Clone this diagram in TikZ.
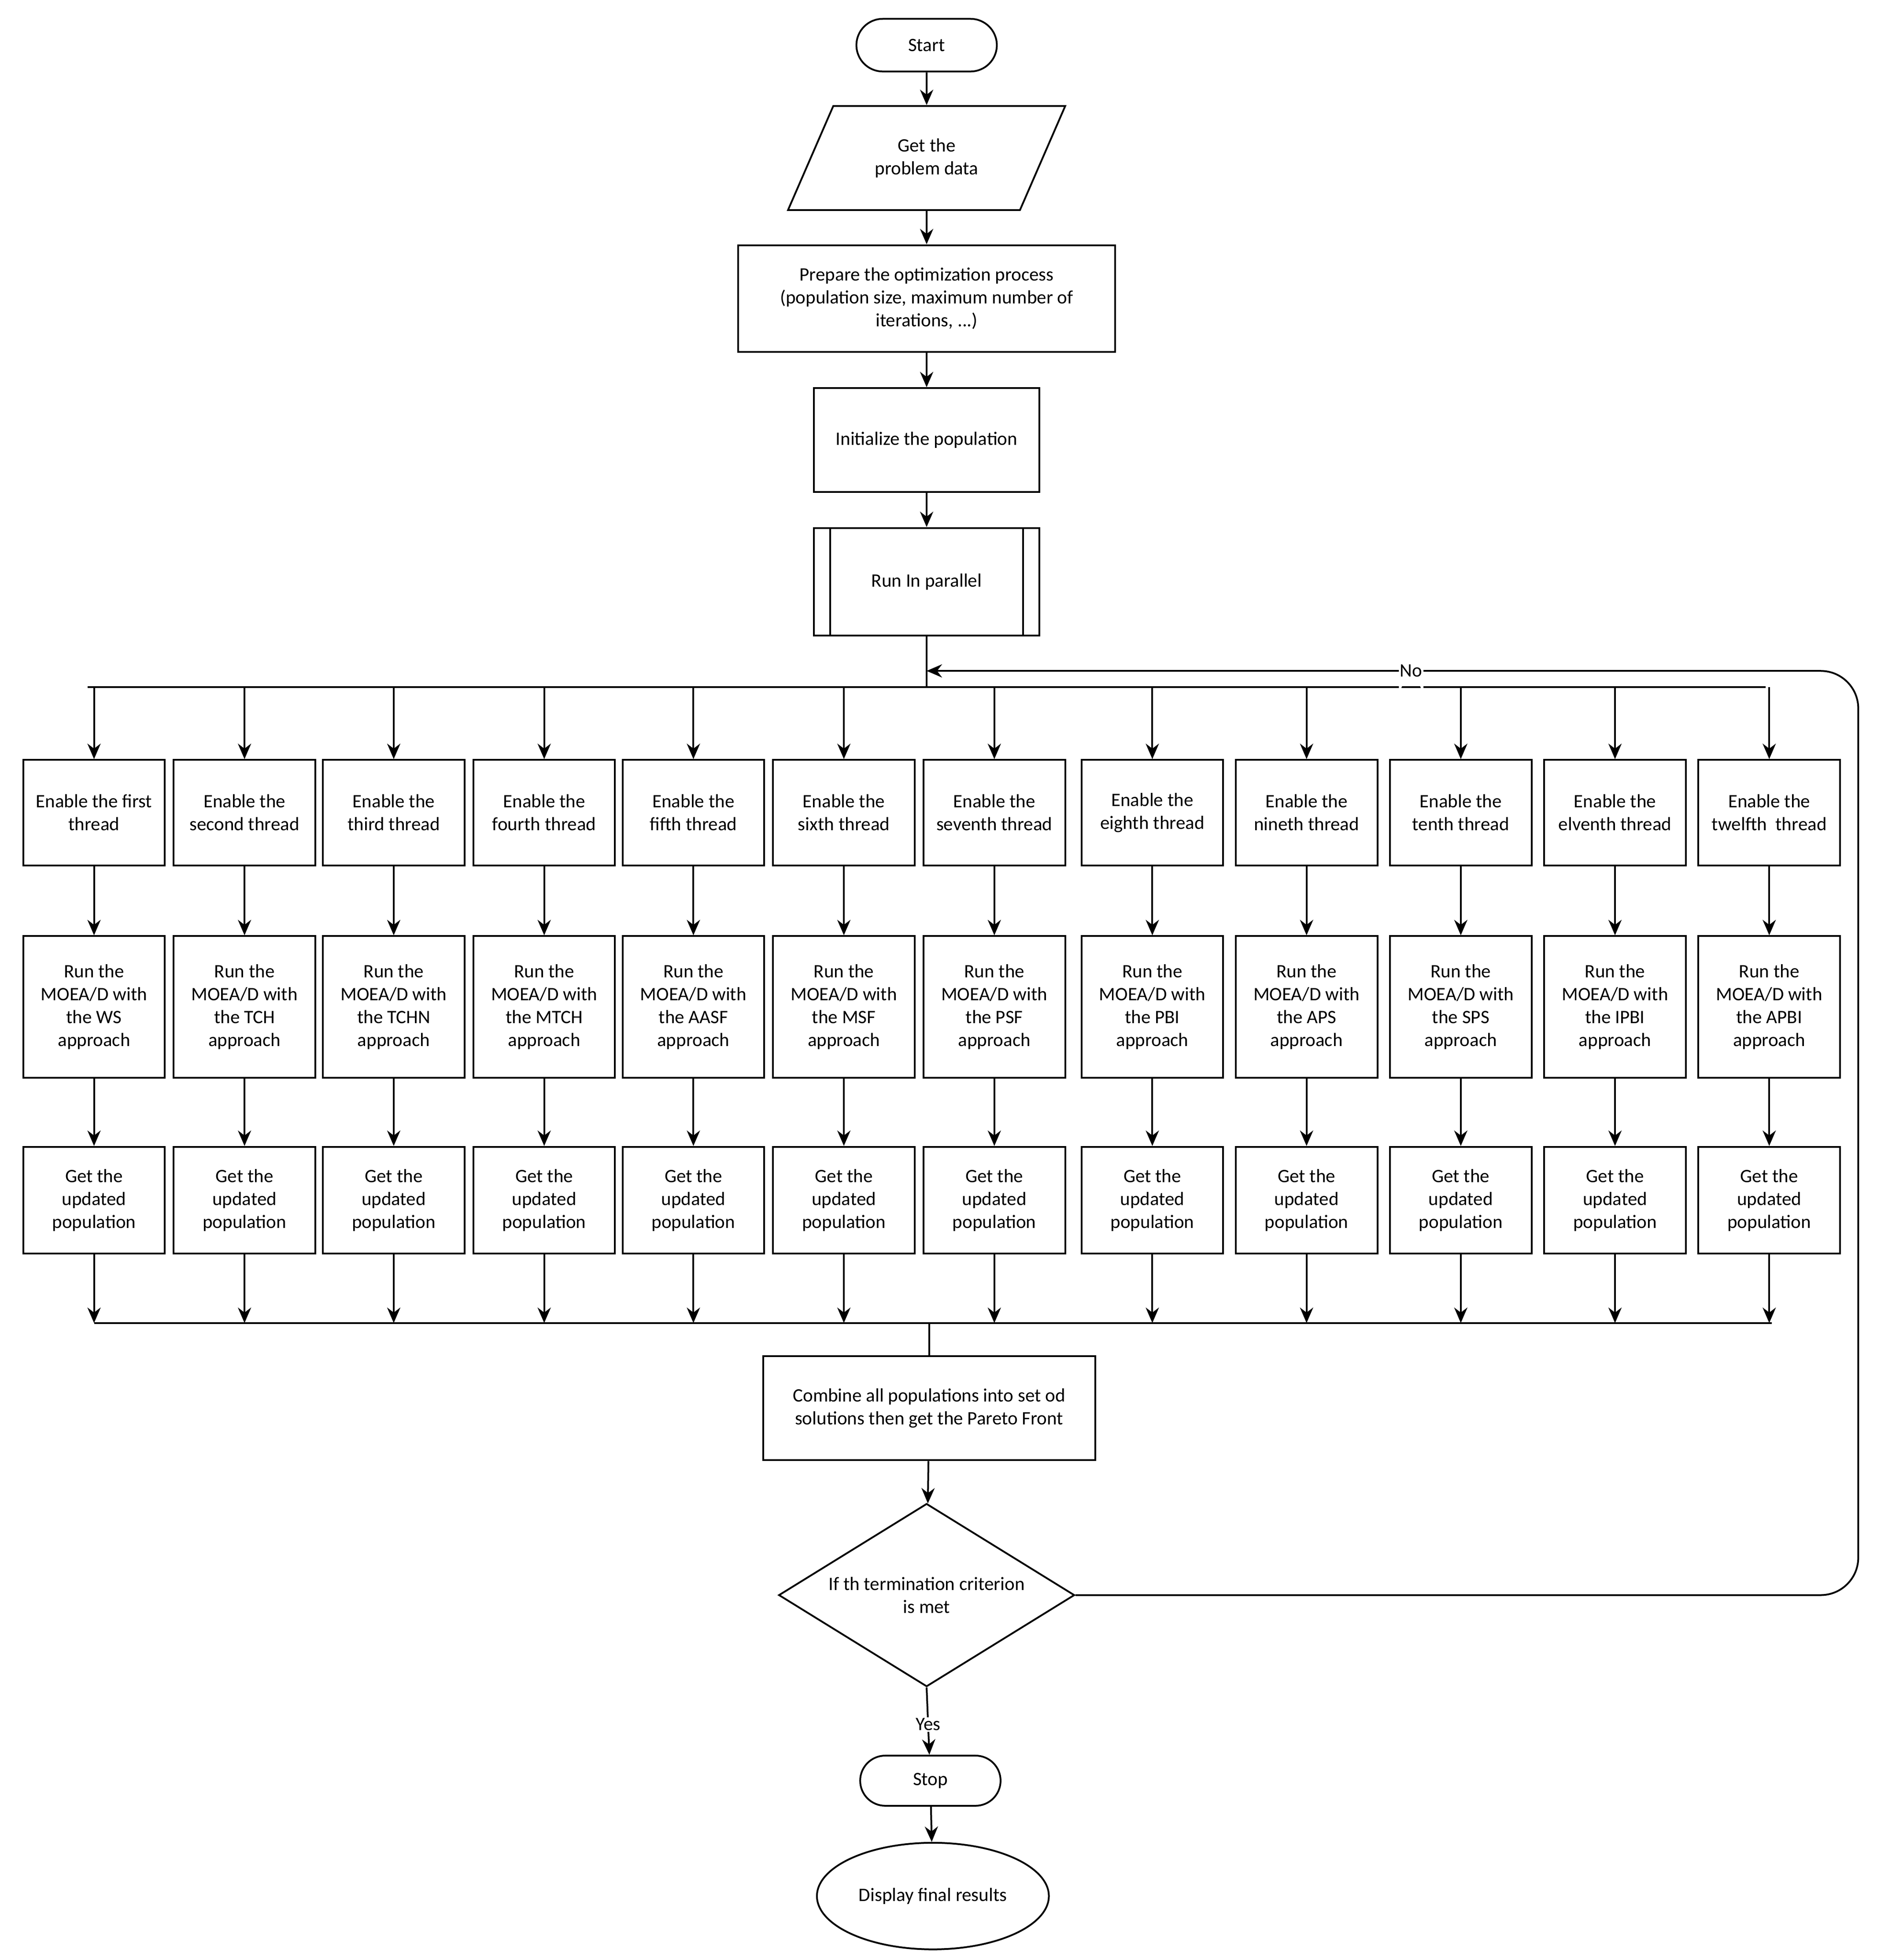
\documentclass[tikz,border=0pt]{standalone}
\usepackage{fontspec}
\setmainfont{Carlito}
\usetikzlibrary{shapes.geometric,arrows.meta}
\begin{document}
\begin{tikzpicture}[x=0.02cm,y=-0.02cm,
  font=\fontsize{8.6}{10.4}\selectfont,
  every node/.style={align=center,inner sep=1pt},
  box/.style={draw,thick,minimum width=2.26cm},
  r1/.style={box,minimum height=1.68cm},
  r2/.style={box,minimum height=2.26cm},
  r3/.style={box,minimum height=1.7cm},
  arr/.style={thick,-{Stealth[length=7pt,width=6pt]}},
  ln/.style={thick}]
\useasboundingbox (0,0) rectangle (1500,1563);
\node[draw,thick,rounded corners=0.42cm,minimum width=2.24cm,minimum height=0.84cm] (start) at (739,36) {Start};
\node[draw,thick,trapezium,trapezium left angle=59,trapezium right angle=121,minimum width=4.44cm,minimum height=1.66cm,trapezium stretches=true] (data) at (739,126) {Get the\\problem data};
\node[box,minimum width=6.02cm,minimum height=1.7cm] (prep) at (739,238) {Prepare the optimization process\\(population size, maximum number of\\iterations, ...)};
\node[box,minimum width=3.6cm,minimum height=1.66cm] (init) at (739,351) {Initialize the population};
\node[box,minimum width=3.6cm,minimum height=1.72cm] (par) at (739,464) {Run In parallel};
\draw[thick] (662,421) -- (662,507) (816,421) -- (816,507);
\draw[arr] (start) -- (data);
\draw[arr] (data) -- (prep);
\draw[arr] (prep) -- (init);
\draw[arr] (init) -- (par);
\coordinate (j0) at (739,548);
\coordinate (jin) at (739,535);
\draw[ln] (par.south) -- (j0);
\coordinate (jl) at (70,548);
\coordinate (jr) at (1408,548);
\draw[ln] (jl) -- (jr);
\coordinate (cl) at (75,1055);
\coordinate (cr) at (1413,1055);
\draw[ln] (cl) -- (cr);
\foreach \i/\x/\a/\b in {
 1/75/{Enable the first\\thread}/{Run the\\MOEA/D with\\the WS\\approach},
 2/195/{Enable the\\second thread}/{Run the\\MOEA/D with\\the TCH\\approach},
 3/314/{Enable the\\third thread}/{Run the\\MOEA/D with\\the TCHN\\approach},
 4/434/{Enable the\\fourth thread}/{Run the\\MOEA/D with\\the MTCH\\approach},
 5/553/{Enable the\\fifth thread}/{Run the\\MOEA/D with\\the AASF\\approach},
 6/673/{Enable the\\sixth thread}/{Run the\\MOEA/D with\\the MSF\\approach},
 7/793/{Enable the\\seventh thread}/{Run the\\MOEA/D with\\the PSF\\approach},
 8/919/{Enable the\\eighth thread}/{Run the\\MOEA/D with\\the PBI\\approach},
 9/1042/{Enable the\\nineth thread}/{Run the\\MOEA/D with\\the APS\\approach},
 10/1165/{Enable the\\tenth thread}/{Run the\\MOEA/D with\\the SPS\\approach},
 11/1288/{Enable the\\elventh thread}/{Run the\\MOEA/D with\\the IPBI\\approach},
 12/1411/{Enable the\\twelfth\ \ thread}/{Run the\\MOEA/D with\\the APBI\\approach}}{
  \node[r1] (e\i) at (\x,648) {\a};
  \node[r2] (m\i) at (\x,803) {\b};
  \node[r3] (g\i) at (\x,957) {Get the\\updated\\population};
  \coordinate (t\i) at (\x,548);
  \coordinate (b\i) at (\x,1055);
  \draw[arr] (t\i) -- (e\i);
  \draw[arr] (e\i) -- (m\i);
  \draw[arr] (m\i) -- (g\i);
  \draw[arr] (g\i) -- (b\i);
}
\node[box,minimum width=5.3cm,minimum height=1.66cm] (comb) at (741,1123) {Combine all populations into set od\\solutions then get the Pareto Front};
\coordinate (c0) at (741,1055);
\draw[ln] (c0) -- (comb);
\node[draw,thick,diamond,aspect=1.62,minimum width=4.72cm,minimum height=2.92cm,inner sep=0pt] (dec) at (739,1272) {If th termination criterion\\is met};
\draw[arr] (comb) -- (dec);
\coordinate (lr) at (1482,1272);
\coordinate (lt) at (1482,535);
\draw[arr,rounded corners=0.6cm] (dec.east) -- (lr) -- (lt) -- node[fill=white,pos=0.48,inner sep=0.5pt]{No} (jin);
\node[draw,thick,rounded corners=0.4cm,minimum width=2.24cm,minimum height=0.8cm] (stop) at (742,1420) {Stop};
\draw[arr] (dec.south) -- node[fill=white,pos=0.55,inner sep=0.5pt]{Yes} (stop);
\node[draw,thick,ellipse,minimum width=3.7cm,minimum height=1.7cm] (disp) at (744,1512) {Display final results};
\draw[arr] (stop) -- (disp);
\end{tikzpicture}
\end{document}
